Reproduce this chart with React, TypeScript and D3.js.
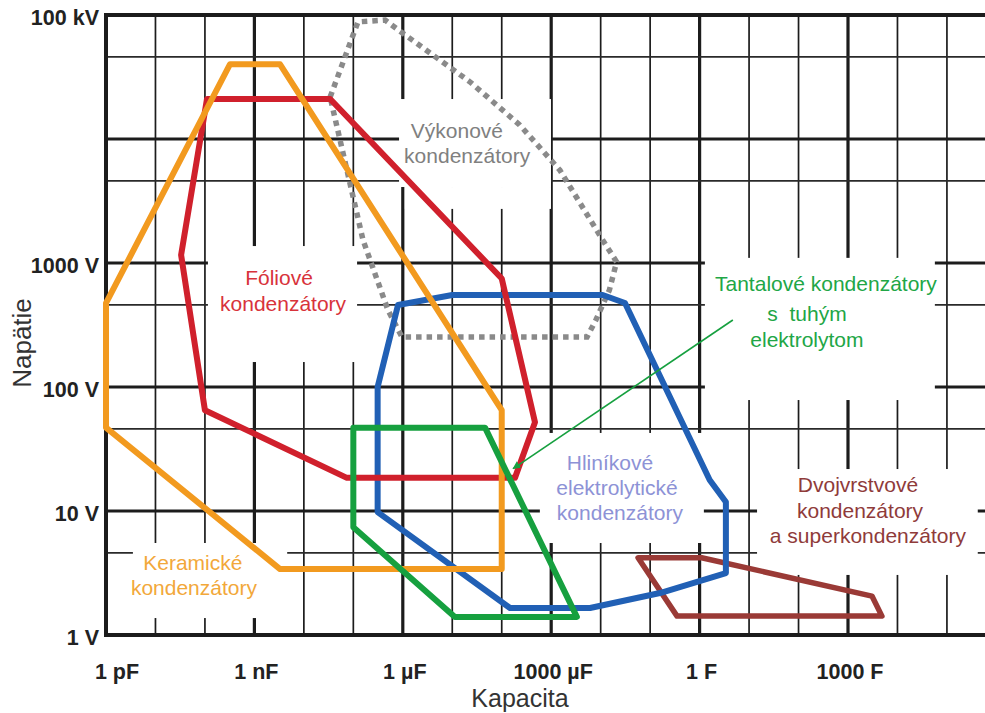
import * as d3 from 'd3';

// [capacitance in F, voltage in V]
type Pt = [number, number];

const xTickValues = [1e-12, 1e-9, 1e-6, 1e-3, 1, 1e3];
const xTickLabels = ['1 pF', '1 nF', '1 µF', '1000 µF', '1 F', '1000 F'];
const yTickValues = [1, 10, 100, 1000, 1e5];
const yTickLabels = ['1 V', '10 V', '100 V', '1000 V', '100 kV'];
const xGridDecades = d3.range(-12, 6).map((e) => 10 ** e);
const yGridDecades = [1, 10, 100, 1000, 1e4, 1e5];
const yGridMinor = [4.6, 46, 460, 4600, 46000];

const ceramic: Pt[] = [
    [1e-12, 475], [3.2e-10, 40000], [3.3e-9, 40000], [1e-4, 65],
    [1e-4, 3.4], [3.3e-9, 3.4], [1e-12, 47],
];
const film: Pt[] = [
    [1.1e-10, 21000], [3.4e-8, 21000], [1e-4, 750], [4.7e-4, 52],
    [1.85e-4, 18.5], [7.4e-8, 18.5], [1e-10, 65], [3.3e-11, 1160],
];
const power: Pt[] = [
    [3.4e-8, 21800], [1.24e-7, 88000], [4.4e-7, 91000], [8.8e-7, 74000],
    [2.3e-5, 28800], [2.3e-4, 13000], [1.5e-3, 5600], [1.1e-2, 1530],
    [2.1e-2, 1020], [1.5e-2, 605], [8e-3, 347], [5.3e-3, 253],
    [9.6e-7, 253], [5e-7, 418], [1.57e-7, 1530],
];
const aluminium: Pt[] = [
    [3.1e-7, 100], [8e-7, 458], [1e-5, 552], [1.1e-2, 552], [3.1e-2, 476],
    [1.6, 17.8], [3.4, 11.8], [3.4, 3.16], [0.158, 2.18], [6.1e-3, 1.65],
    [1.47e-4, 1.65], [3.1e-7, 9.8],
];
const tantalum: Pt[] = [[1e-7, 47], [4.6e-5, 47], [3.3e-3, 1.4], [1.13e-5, 1.4], [1e-7, 7.4]];
const doubleLayer: Pt[] = [[5.7e-2, 4.2], [1.1, 4.2], [3050, 2.06], [4850, 1.42], [0.35, 1.42]];
const tantalumPointer: Pt[] = [[4.7, 347], [1.7e-4, 22]];

// areas where the grid is blanked out behind the labels: [c0, c1, v0, v1]
const labelBoxes: [number, number, number, number][] = [
    [8.4e-7, 9.9e-4, 4100, 21000],
    [1.1e-6, 9.9e-4, 2730, 4100],
    [1.15e-10, 1.19e-7, 159, 1370],
    [1.28, 57000, 78.5, 1100],
    [5.9e-4, 1.22, 5.52, 42.6],
    [14.5, 4.2e5, 3.05, 21.8],
    [3.5e-12, 4.6e-9, 1.37, 5.52],
];

const labelLines: { text: string; at: Pt; color: string }[] = [
    { text: 'Výkonové', at: [1.24e-5, 10200], color: '#808080' },
    { text: 'kondenzátory', at: [2e-5, 6400], color: '#808080' },
    { text: 'Fóliové', at: [3.14e-9, 665], color: '#d8333b' },
    { text: 'kondenzátory', at: [3.8e-9, 410], color: '#d8333b' },
    { text: 'Tantalové kondenzátory', at: [358, 595], color: '#21a646' },
    { text: 's\u00a0\u00a0tuhým', at: [148, 341], color: '#21a646' },
    { text: 'elektrolytom', at: [148, 210], color: '#21a646' },
    { text: 'Hliníkové', at: [1.54e-2, 21.4], color: '#8d92d6' },
    { text: 'elektrolytické', at: [2.14e-2, 13.5], color: '#8d92d6' },
    { text: 'kondenzátory', at: [2.45e-2, 8.46], color: '#8d92d6' },
    { text: 'Dvojvrstvové', at: [1590, 14.2], color: '#8f3b3a' },
    { text: 'kondenzátory', at: [1750, 8.78], color: '#8f3b3a' },
    { text: 'a superkondenzátory', at: [2530, 5.52], color: '#8f3b3a' },
    { text: 'Keramické', at: [5.7e-11, 3.34], color: '#f2a83a' },
    { text: 'kondenzátory', at: [6e-11, 2.1], color: '#f2a83a' },
];

const W = 985;
const H = 713;
const FONT = '"Liberation Sans", Arial, sans-serif';

export default function App() {
    const x = d3.scaleLog().domain([1e-12, 1e3]).range([106, 848]);
    const y = d3.scaleLog().domain([1, 1e5]).range([635, 15]);
    const left = x(1e-12);
    const bottom = y(1);
    const top = y(1e5);

    const area = d3
        .line<Pt>()
        .x((d) => x(d[0]))
        .y((d) => y(d[1]))
        .curve(d3.curveLinearClosed);

    const isMajorX = (v: number) => Math.round(Math.log10(v)) % 3 === 0;

    const shapes = [
        { pts: power, color: '#8a8a8a', width: 5.5, dash: '5.5 5' },
        { pts: doubleLayer, color: '#9a3a36', width: 5.5 },
        { pts: aluminium, color: '#2160b5', width: 6 },
        { pts: film, color: '#d0202c', width: 6 },
        { pts: ceramic, color: '#f29a1f', width: 6 },
        { pts: tantalum, color: '#16a03f', width: 6 },
    ];

    return (
        <svg
            width={W}
            height={H}
            viewBox={`0 0 ${W} ${H}`}
            style={{ position: 'absolute', left: 0, top: 0, background: '#fff' }}
        >
            <defs>
                <marker id="arrow" viewBox="0 0 10 10" refX={9} refY={5} markerWidth={5} markerHeight={5} orient="auto">
                    <path d="M0,0L10,5L0,10z" fill="#16a03f" />
                </marker>
            </defs>
            <g>
                {xGridDecades.map((v, i) => (
                    <line
                        key={'vx' + i}
                        x1={x(v)}
                        x2={x(v)}
                        y1={top}
                        y2={bottom}
                        stroke="#1c1c1c"
                        strokeWidth={isMajorX(v) ? 3.2 : 1.7}
                    />
                ))}
                {yGridDecades.map((v, i) => (
                    <line key={'hy' + i} x1={left} x2={W} y1={y(v)} y2={y(v)} stroke="#1c1c1c" strokeWidth={3.2} />
                ))}
                {yGridMinor.map((v, i) => (
                    <line key={'hm' + i} x1={left} x2={W} y1={y(v)} y2={y(v)} stroke="#2a2a2a" strokeWidth={1.7} />
                ))}
            </g>
            <g>
                {labelBoxes.map(([c0, c1, v0, v1], i) => (
                    <rect key={i} x={x(c0)} y={y(v1)} width={x(c1) - x(c0)} height={y(v0) - y(v1)} fill="#fff" />
                ))}
            </g>
            <line x1={left} x2={W} y1={top} y2={top} stroke="#1c1c1c" strokeWidth={4} />
            <line x1={left} x2={W} y1={bottom} y2={bottom} stroke="#1c1c1c" strokeWidth={4} />
            <line x1={left} x2={left} y1={top - 2} y2={bottom + 2} stroke="#1c1c1c" strokeWidth={4} />
            <g fill="none" strokeLinejoin="round">
                {shapes.map((s, i) => (
                    <path
                        key={i}
                        d={area(s.pts) ?? ''}
                        stroke={s.color}
                        strokeWidth={s.width}
                        strokeDasharray={s.dash}
                        strokeLinejoin={s.dash ? 'miter' : 'round'}
                    />
                ))}
            </g>
            <line
                x1={x(tantalumPointer[0][0])}
                y1={y(tantalumPointer[0][1])}
                x2={x(tantalumPointer[1][0])}
                y2={y(tantalumPointer[1][1])}
                stroke="#16a03f"
                strokeWidth={1.6}
                markerEnd="url(#arrow)"
            />
            <g fontFamily={FONT} fontSize={21} textAnchor="middle">
                {labelLines.map((l, i) => (
                    <text key={i} x={x(l.at[0])} y={y(l.at[1])} fill={l.color}>
                        {l.text}
                    </text>
                ))}
            </g>
            <g fontFamily={FONT} fontSize={21.5} fontWeight="bold" fill="#222">
                {xTickValues.map((v, i) => (
                    <text key={'xt' + i} x={x(v) + (i === 0 ? 11 : 2)} y={679} textAnchor="middle">
                        {xTickLabels[i]}
                    </text>
                ))}
                {yTickValues.map((v, i) => (
                    <text key={'yt' + i} x={99} y={y(v) + 10} textAnchor="end">
                        {yTickLabels[i]}
                    </text>
                ))}
            </g>
            <g fontFamily={FONT} fontSize={25} fill="#333" textAnchor="middle">
                <text x={520} y={707}>
                    Kapacita
                </text>
                <text fontSize={26} transform="translate(31, 343) rotate(-90)">Napätie</text>
            </g>
        </svg>
    );
}
